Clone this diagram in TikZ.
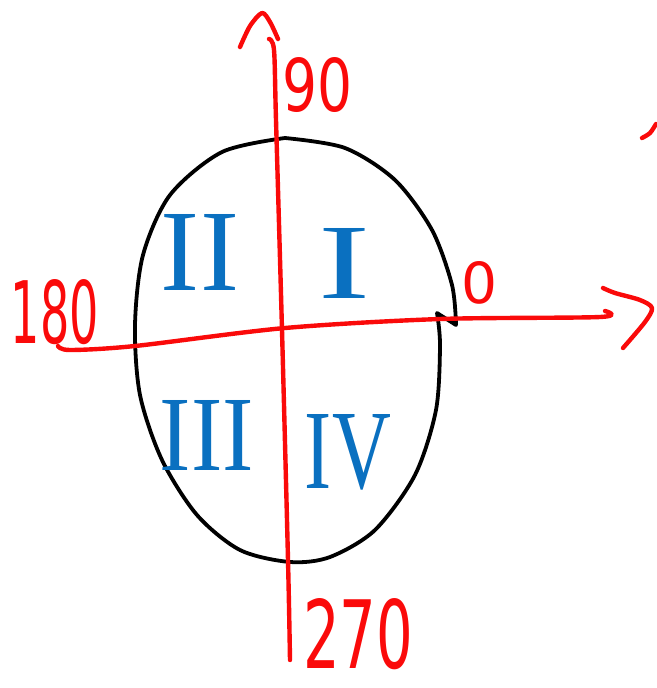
\documentclass[tikz,border=0pt]{standalone}
\usepackage{fontspec}
\newfontfamily\digfont{DejaVu Sans}
\newfontfamily\romfont{Liberation Serif}
\definecolor{axred}{RGB}{250,10,10}
\definecolor{quadblue}{RGB}{10,112,192}
\tikzset{
  axisline/.style={draw=axred,line width=4.4pt,line cap=round,line join=round},
  ovalline/.style={draw=black,line width=3.8pt,line cap=round,line join=round},
  deg/.style={text=axred,inner sep=0pt,font=\digfont},
  quad/.style={text=quadblue,inner sep=0pt,font=\romfont},
}
\begin{document}
\begin{tikzpicture}[x=1pt,y=-1pt]
\useasboundingbox (0,0) rectangle (656,688);
% oval
\draw[ovalline] plot[smooth] coordinates {(285,138) (345,148) (395,180) (432,230) (452,285) (456,325)}
  -- (437,313)
  plot[smooth] coordinates {(437,313) (440,345) (436,410) (415,475) (375,530) (330,557) (290,562) (240,550) (197,515) (162,460) (140,395) (135,325) (143,255) (170,195) (222,152) (285,138)};
% vertical axis
\draw[axisline] plot[smooth] coordinates {(269,39) (274,50) (276,120) (282,330) (288,560) (290,660)};
\draw[axisline] plot[smooth] coordinates {(240,47) (250,26) (262,13) (270,22) (278,39)};
% horizontal axis
\draw[axisline] plot[smooth] coordinates {(58,346) (70,350) (135,346) (285,328) (440,319) (600,317) (605,311)};
\draw[axisline] plot[smooth] coordinates {(603,288) (615,293) (640,300) (652,308) (645,322) (623,348)};
% stray mark at top right
\draw[axisline] plot[smooth] coordinates {(642,138) (650,133) (656,124)};
% degree labels
\node[deg] (d90) at (318,85) {\resizebox{70pt}{54pt}{90}};
\node[deg] (d180) at (55,312) {\resizebox{88pt}{64pt}{180}};
\node[deg] (d0) at (480,283) {\resizebox{36pt}{42pt}{0}};
\node[deg] (d270) at (358,634) {\resizebox{110pt}{70pt}{270}};
% quadrant labels
\node[quad] (q2) at (200,252) {\resizebox{78pt}{76pt}{II}};
\node[quad] (q1) at (345,263) {\resizebox{52pt}{70pt}{I}};
\node[quad] (q3) at (207,435) {\resizebox{94pt}{70pt}{III}};
\node[quad] (q4) at (348,452) {\resizebox{86pt}{74pt}{IV}};
\end{tikzpicture}
\end{document}
